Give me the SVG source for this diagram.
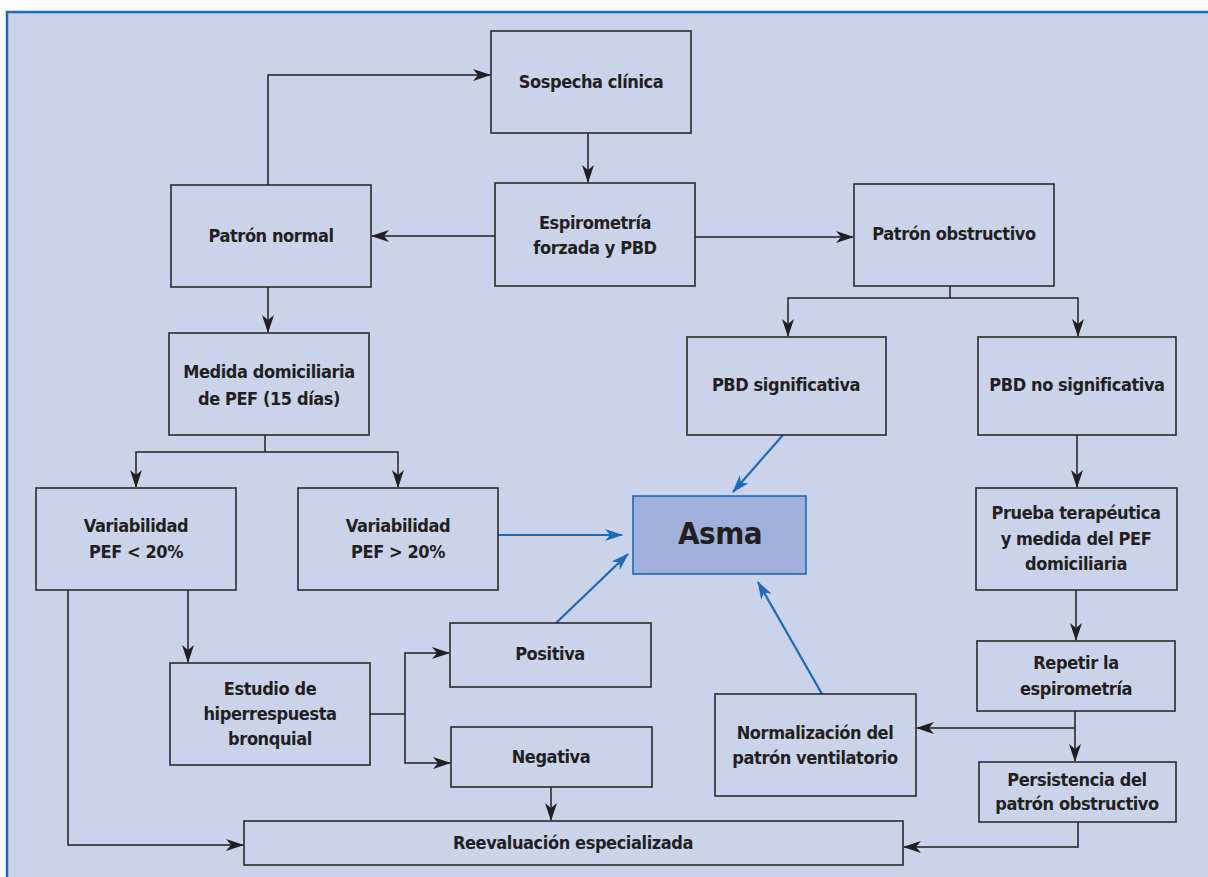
<svg xmlns="http://www.w3.org/2000/svg" width="1208" height="877" viewBox="0 0 1208 877">
<defs>
<style>
.n rect{fill:none;stroke:#2b2b2b;stroke-width:1.6}
.n text,.t{font-family:"Liberation Sans Narrow","DejaVu Sans Condensed","Liberation Sans",sans-serif;font-weight:bold;font-size:18px;letter-spacing:-0.4px;fill:#231f20;text-anchor:middle}
.c path{fill:none;stroke:#231f20;stroke-width:1.5}
.c path.b{stroke:#1c6ab8;stroke-width:2.2}
</style>
<marker id="ak" viewBox="0 0 18 12" refX="17" refY="6" markerWidth="18" markerHeight="12" markerUnits="userSpaceOnUse" orient="auto">
<path d="M0,0 L18,6 L0,12 L5,6 z" fill="#231f20"/>
</marker>
<marker id="ab" viewBox="0 0 18 12" refX="17" refY="6" markerWidth="18" markerHeight="12" markerUnits="userSpaceOnUse" orient="auto">
<path d="M0,0 L18,6 L0,12 L5,6 z" fill="#1c6ab8"/>
</marker>
</defs>
<rect x="0" y="0" width="1208" height="877" fill="#ffffff"/>
<rect x="7" y="12" width="1210" height="880" fill="#cad3ea" stroke="#1c6ab8" stroke-width="2.5"/>

<g class="c" id="connectors">
<path d="M268,185 V75 H490" marker-end="url(#ak)"/>
<path d="M588,133 V182" marker-end="url(#ak)"/>
<path d="M495,236 H372" marker-end="url(#ak)"/>
<path d="M695,237 H853" marker-end="url(#ak)"/>
<path d="M268,287 V332" marker-end="url(#ak)"/>
<path d="M950,286 V298"/>
<path d="M950,298 H788 V336" marker-end="url(#ak)"/>
<path d="M950,298 H1078 V336" marker-end="url(#ak)"/>
<path d="M265,435 V452"/>
<path d="M265,452 H136 V487" marker-end="url(#ak)"/>
<path d="M265,452 H398 V487" marker-end="url(#ak)"/>
<path d="M68,590 V845 H243" marker-end="url(#ak)"/>
<path d="M188,590 V662" marker-end="url(#ak)"/>
<path d="M370,714 H405"/>
<path d="M405,714 V653 H449" marker-end="url(#ak)"/>
<path d="M405,714 V763 H450" marker-end="url(#ak)"/>
<path d="M551,787 V820" marker-end="url(#ak)"/>
<path d="M1077,435 V487" marker-end="url(#ak)"/>
<path d="M1076,590 V640" marker-end="url(#ak)"/>
<path d="M1075,711 V761" marker-end="url(#ak)"/>
<path d="M1075,728 H917" marker-end="url(#ak)"/>
<path d="M1078,822 V847 H904" marker-end="url(#ak)"/>
<path class="b" d="M498,535 H622" marker-end="url(#ab)"/>
<path class="b" d="M556,623 L628,554" marker-end="url(#ab)"/>
<path class="b" d="M783,435 L733,492" marker-end="url(#ab)"/>
<path class="b" d="M822,694 L758,582" marker-end="url(#ab)"/>
</g>

<g class="n" id="sospecha"><rect x="491" y="31" width="200" height="102"/><text x="591" y="88">Sospecha clínica</text></g>
<g class="n" id="espirometria"><rect x="495" y="183" width="200" height="103"/><text x="595" y="229">Espirometría</text><text x="595" y="254">forzada y PBD</text></g>
<g class="n" id="patron-normal"><rect x="171" y="185" width="200" height="102"/><text x="271" y="242">Patrón normal</text></g>
<g class="n" id="patron-obstructivo"><rect x="854" y="184" width="200" height="102"/><text x="954" y="240">Patrón obstructivo</text></g>
<g class="n" id="medida"><rect x="169" y="333" width="200" height="102"/><text x="269" y="378">Medida domiciliaria</text><text x="269" y="405">de PEF (15 días)</text></g>
<g class="n" id="pbd-sig"><rect x="687" y="337" width="199" height="98"/><text x="786" y="391">PBD significativa</text></g>
<g class="n" id="pbd-nosig"><rect x="978" y="337" width="198" height="98"/><text x="1077" y="391">PBD no significativa</text></g>
<g class="n" id="var-menor"><rect x="36" y="488" width="200" height="102"/><text x="136" y="532">Variabilidad</text><text x="136" y="558">PEF &lt; 20%</text></g>
<g class="n" id="var-mayor"><rect x="298" y="488" width="200" height="102"/><text x="398" y="532">Variabilidad</text><text x="398" y="558">PEF &gt; 20%</text></g>
<g id="asma"><rect x="633" y="496" width="173" height="78" fill="#9fb1db" stroke="#1c6ab8" stroke-width="1.6"/><text class="t" x="720" y="544" style="font-size:31px;letter-spacing:-0.5px">Asma</text></g>
<g class="n" id="prueba"><rect x="976" y="488" width="201" height="102"/><text x="1076" y="519">Prueba terapéutica</text><text x="1076" y="545">y medida del PEF</text><text x="1076" y="570">domiciliaria</text></g>
<g class="n" id="positiva"><rect x="450" y="623" width="201" height="64"/><text x="550" y="660">Positiva</text></g>
<g class="n" id="repetir"><rect x="977" y="641" width="198" height="70"/><text x="1076" y="669">Repetir la</text><text x="1076" y="695">espirometría</text></g>
<g class="n" id="estudio"><rect x="170" y="663" width="200" height="102"/><text x="270" y="695">Estudio de</text><text x="270" y="720">hiperrespuesta</text><text x="270" y="745">bronquial</text></g>
<g class="n" id="normalizacion"><rect x="715" y="694" width="201" height="102"/><text x="815" y="739">Normalización del</text><text x="815" y="764">patrón ventilatorio</text></g>
<g class="n" id="negativa"><rect x="451" y="727" width="201" height="60"/><text x="551" y="763">Negativa</text></g>
<g class="n" id="persistencia"><rect x="979" y="762" width="197" height="60"/><text x="1077" y="786">Persistencia del</text><text x="1077" y="810">patrón obstructivo</text></g>
<g class="n" id="reevaluacion"><rect x="244" y="821" width="659" height="44"/><text x="573" y="849">Reevaluación especializada</text></g>
</svg>
